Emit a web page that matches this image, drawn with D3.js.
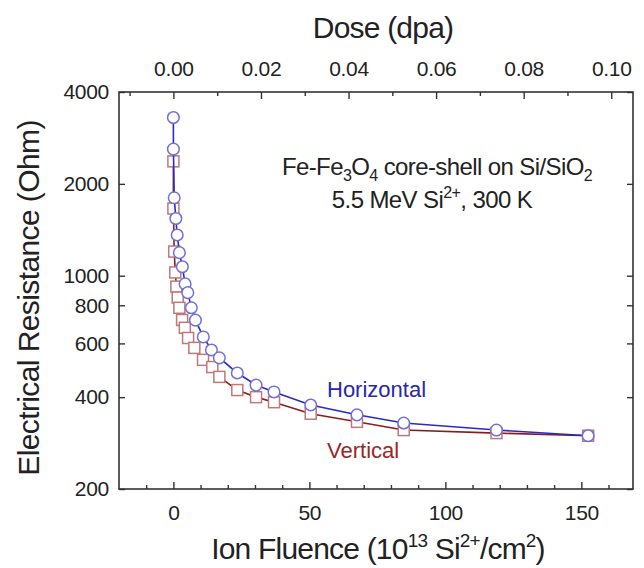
<!DOCTYPE html>
<html>
<head>
<meta charset="utf-8">
<script src="https://cdn.jsdelivr.net/npm/d3@7"></script>
<style>
  body { margin: 0; background: #fff; }
  text { font-family: "Liberation Sans", Arial, sans-serif; fill: #222; }
</style>
</head>
<body>
<script>
// data: ion fluence (1e13 Si2+/cm2) and resistance (Ohm)
const horizFluence = [0, 0, 0.3, 0.9, 1.4, 2.2, 3.3, 4.3, 5.3, 6.6, 8.1, 11, 14, 16.9, 23.5, 30.4, 37, 50.5, 67.5, 84.7, 118.8, 152.5];
const horizOhm     = [3300, 2600, 1800, 1540, 1360, 1190, 1070, 940, 880, 785, 715, 630, 571, 538, 480, 438, 416, 377, 350, 329, 312, 299];

const vertFluence = [0, 0, 0.3, 0.7, 1.1, 1.6, 2.2, 3.2, 4.2, 5.4, 7.7, 10.9, 14.3, 16.9, 23.5, 30.4, 37, 50.5, 67.5, 84.7, 118.8, 152.5];
const vertOhm     = [2370, 1660, 1200, 1025, 921, 848, 785, 716, 675, 625, 580, 530, 502, 466, 422, 400, 385, 353, 332, 312, 305, 299];

const fluenceTicks = [0, 50, 100, 150];
const doseTicks = [0, 0.02, 0.04, 0.06, 0.08, 0.10];
const ohmTicks = [200, 400, 600, 800, 1000, 2000, 4000];
const dosePerFluence = 0.1 / 161;

var width = 644,
    height = 568;

// plot frame
const frameL = 119, frameR = 633, frameT = 92, frameB = 489;

var svg = d3.select('body').append('svg')
    .attr('width', width)
    .attr('height', height);

var x = d3.scaleLinear().domain([-20, 169]).range([frameL, frameR]);
var xTop = d3.scaleLinear().domain([-20 * dosePerFluence, 169 * dosePerFluence]).range([frameL, frameR]);
var y = d3.scaleLog().domain([200, 4000]).range([frameB, frameT]);

// minor ticks
var minorX = d3.range(-10, 161, 10).filter(d => d % 50 !== 0);
var minorDose = d3.range(-1, 11, 2).map(d => d / 100);

svg.append('g')
    .attr('transform', `translate(0,${frameB})`)
    .call(d3.axisBottom(x).tickValues(minorX).tickSize(-4).tickFormat(''));
svg.append('g')
    .attr('transform', `translate(0,${frameB})`)
    .call(d3.axisBottom(x).tickValues(fluenceTicks).tickSize(-7).tickPadding(16).tickFormat(d3.format('d')));

svg.append('g')
    .attr('transform', `translate(0,${frameT})`)
    .call(d3.axisTop(xTop).tickValues(minorDose).tickSize(-4).tickFormat(''));
svg.append('g')
    .attr('transform', `translate(0,${frameT})`)
    .call(d3.axisTop(xTop).tickValues(doseTicks).tickSize(-7).tickPadding(16).tickFormat(d3.format('.2f')));

svg.append('g')
    .attr('transform', `translate(${frameL},0)`)
    .call(d3.axisLeft(y).tickValues(ohmTicks).tickSize(-6).tickPadding(10).tickFormat(d3.format('d')));
svg.append('g')
    .attr('transform', `translate(${frameR},0)`)
    .call(d3.axisRight(y).tickValues(ohmTicks).tickSize(-6).tickFormat(''));

svg.selectAll('.domain').remove();
svg.selectAll('.tick line').attr('stroke', '#333').attr('stroke-width', 1.4);
svg.selectAll('.tick text').attr('font-size', 21).attr('fill', '#222')
    .attr('letter-spacing', -0.3)
    .attr('font-family', '"Liberation Sans", Arial, sans-serif');

svg.append('rect')
    .attr('x', frameL).attr('y', frameT)
    .attr('width', frameR - frameL).attr('height', frameB - frameT)
    .attr('fill', 'none').attr('stroke', '#333').attr('stroke-width', 1.6);

// series
var line = d3.line().x(d => x(d[0])).y(d => y(d[1]));
var vert = d3.zip(vertFluence, vertOhm);
var horiz = d3.zip(horizFluence, horizOhm);

svg.append('path').datum(vert)
    .attr('d', line).attr('fill', 'none')
    .attr('stroke', '#8b1c1c').attr('stroke-width', 1.6);
svg.selectAll('rect.sq').data(vert).enter().append('rect')
    .attr('class', 'sq')
    .attr('x', d => x(d[0]) - 5.5).attr('y', d => y(d[1]) - 5.5)
    .attr('width', 11).attr('height', 11)
    .attr('fill', '#fff').attr('stroke', '#c07878').attr('stroke-width', 1.5);

svg.append('path').datum(horiz)
    .attr('d', line).attr('fill', 'none')
    .attr('stroke', '#2a2ac4').attr('stroke-width', 1.6);
svg.selectAll('circle').data(horiz).enter().append('circle')
    .attr('cx', d => x(d[0])).attr('cy', d => y(d[1]))
    .attr('r', 5.8)
    .attr('fill', '#fff').attr('stroke', '#7070d8').attr('stroke-width', 1.5);

// labels
svg.append('text').attr('x', 327).attr('y', 397)
    .attr('font-size', 22).style('fill', '#2828a8').text('Horizontal');
svg.append('text').attr('x', 327).attr('y', 458)
    .attr('font-size', 22).style('fill', '#982828').text('Vertical');

var note1 = svg.append('text').attr('x', 437).attr('y', 175)
    .attr('text-anchor', 'middle').attr('font-size', 24).attr('letter-spacing', -0.6);
note1.append('tspan').text('Fe-Fe');
note1.append('tspan').attr('dy', 6).attr('font-size', 16).text('3');
note1.append('tspan').attr('dy', -6).text('O');
note1.append('tspan').attr('dy', 6).attr('font-size', 16).text('4');
note1.append('tspan').attr('dy', -6).text(' core-shell on Si/SiO');
note1.append('tspan').attr('dy', 6).attr('font-size', 16).text('2');

var note2 = svg.append('text').attr('x', 432).attr('y', 208)
    .attr('text-anchor', 'middle').attr('font-size', 24).attr('letter-spacing', -0.6);
note2.append('tspan').text('5.5 MeV Si');
note2.append('tspan').attr('dy', -10).attr('font-size', 16).text('2+');
note2.append('tspan').attr('dy', 10).text(', 300 K');

// axis titles
svg.append('text').attr('x', 383).attr('y', 38)
    .attr('text-anchor', 'middle').attr('font-size', 30).attr('letter-spacing', -0.8)
    .text('Dose (dpa)');

var xt = svg.append('text').attr('x', 378).attr('y', 559)
    .attr('text-anchor', 'middle').attr('font-size', 30).attr('letter-spacing', -0.8);
xt.append('tspan').text('Ion Fluence (10');
xt.append('tspan').attr('dy', -12).attr('font-size', 19).text('13');
xt.append('tspan').attr('dy', 12).text(' Si');
xt.append('tspan').attr('dy', -12).attr('font-size', 19).text('2+');
xt.append('tspan').attr('dy', 12).text('/cm');
xt.append('tspan').attr('dy', -12).attr('font-size', 19).text('2');
xt.append('tspan').attr('dy', 12).text(')');

svg.append('text')
    .attr('transform', 'translate(39,298) rotate(-90)')
    .attr('text-anchor', 'middle').attr('font-size', 30).attr('letter-spacing', -0.6)
    .text('Electrical Resistance (Ohm)');
</script>
</body>
</html>
